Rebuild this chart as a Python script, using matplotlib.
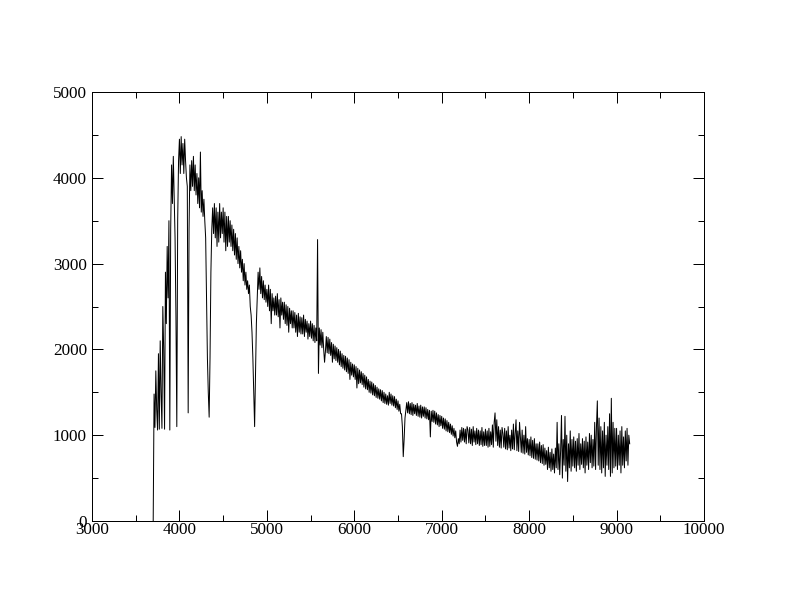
import numpy as np
import matplotlib
matplotlib.use("Agg")
import matplotlib.pyplot as plt
from matplotlib.ticker import MultipleLocator

# --- spectrum, 10 A sampling from 3700 to 9150 A ---
wave_start = 3700
wave_stop = 9150
wave_step = 10

flux = [
    # 3700
    0, 1480, 1090, 1750, 1300, 1060, 1950, 1070, 2100, 1500,
    # 3800
    1080, 2500, 2000, 1070, 2900, 2300, 3200, 2600, 3500, 1060,
    # 3900
    3400, 4150, 3700, 4250, 3800, 3300, 2400, 1100, 3500, 4200,
    # 4000
    4450, 4050, 4480, 4150, 4400, 4050, 4450, 4200, 4000, 3900,
    # 4100  (H-delta)
    1260, 3400, 4150, 3850, 4200, 3900, 4250, 3850, 4150, 3800,
    # 4200
    4050, 3700, 4000, 3650, 4300, 3600, 3850, 3550, 3750, 3500,
    # 4300  (H-gamma)
    3300, 2600, 1900, 1500, 1210, 1900, 2900, 3400, 3650, 3350,
    # 4400
    3700, 3300, 3650, 3200, 3600, 3250, 3700, 3300, 3600, 3350,
    # 4500
    3650, 3250, 3600, 3150, 3550, 3200, 3550, 3250, 3500, 3200,
    # 4600
    3450, 3150, 3400, 3100, 3350, 3050, 3300, 3000, 3200, 2950,
    # 4700
    3150, 2900, 3050, 2800, 3000, 2750, 2900, 2700, 2800, 2650,
    # 4800  (H-beta)
    2750, 2500, 2400, 2200, 1900, 1500, 1100, 1700, 2300, 2600,
    # 4900
    2900, 2700, 2950, 2650, 2850, 2600, 2800, 2580, 2750, 2550,
    # 5000
    2700, 2500, 2750, 2450, 2700, 2300, 2650, 2450, 2600, 2400,
    # 5100
    2620, 2400, 2650, 2380, 2580, 2250, 2600, 2400, 2550, 2350,
    # 5200
    2550, 2300, 2520, 2280, 2500, 2200, 2480, 2300, 2450, 2250,
    # 5300
    2450, 2250, 2430, 2200, 2400, 2150, 2420, 2200, 2380, 2180,
    # 5400
    2370, 2180, 2400, 2150, 2350, 2200, 2330, 2120, 2300, 2150,
    # 5500  (sky line near 5577)
    2330, 2130, 2300, 2100, 2280, 2080, 2250, 2100, 3280, 1720,
    # 5600
    2250, 2050, 2230, 2020, 2200, 2000, 1850, 1980, 2150, 1960,
    # 5700
    2140, 1950, 2120, 1930, 2080, 1850, 2060, 1890, 2040, 1870,
    # 5800
    2020, 1850, 2000, 1820, 1980, 1800, 1950, 1780, 1930, 1760,
    # 5900
    1920, 1740, 1900, 1720, 1880, 1650, 1850, 1700, 1830, 1680,
    # 6000
    1820, 1650, 1800, 1550, 1780, 1600, 1760, 1610, 1740, 1590,
    # 6100
    1720, 1560, 1700, 1540, 1680, 1530, 1650, 1500, 1630, 1490,
    # 6200
    1620, 1470, 1600, 1460, 1580, 1440, 1560, 1430, 1540, 1420,
    # 6300
    1530, 1400, 1520, 1380, 1500, 1370, 1480, 1360, 1460, 1350,
    # 6400
    1500, 1370, 1480, 1350, 1460, 1340, 1450, 1320, 1420, 1300,
    # 6500  (H-alpha)
    1400, 1280, 1360, 1250, 1250, 1100, 750, 950, 1200, 1290,
    # 6600
    1380, 1260, 1390, 1250, 1370, 1240, 1380, 1230, 1360, 1250,
    # 6700
    1350, 1230, 1370, 1220, 1340, 1210, 1350, 1200, 1330, 1220,
    # 6800
    1330, 1200, 1320, 1190, 1300, 1180, 1290, 980, 1280, 1160,
    # 6900
    1290, 1150, 1280, 1130, 1260, 1120, 1240, 1100, 1230, 1110,
    # 7000
    1220, 1080, 1200, 1070, 1190, 1050, 1170, 1040, 1150, 1030,
    # 7100
    1130, 1010, 1110, 990, 1080, 970, 1050, 920, 870, 960,
    # 7200
    900, 1060, 920, 1090, 940, 1080, 920, 1070, 900, 1100,
    # 7300
    1060, 910, 1090, 900, 1070, 880, 1100, 920, 1050, 890,
    # 7400
    1080, 900, 1060, 880, 1050, 890, 1090, 870, 1040, 880,
    # 7500
    1070, 880, 1050, 860, 1080, 870, 1040, 890, 1120, 860,
    # 7600
    1150, 1260, 930, 1180, 880, 1100, 860, 1060, 850, 1090,
    # 7700
    1020, 860, 1080, 840, 1050, 830, 1100, 850, 1000, 820,
    # 7800
    1060, 840, 1130, 830, 1020, 1180, 820, 1050, 810, 1150,
    # 7900
    980, 800, 1060, 790, 1000, 780, 1100, 800, 960, 770,
    # 8000
    950, 760, 980, 740, 940, 730, 960, 720, 900, 710,
    # 8100
    900, 700, 920, 680, 880, 670, 890, 650, 850, 660,
    # 8200
    820, 600, 860, 620, 800, 580, 840, 600, 780, 560,
    # 8300
    850, 620, 1150, 600, 900, 540, 820, 1230, 500, 950,
    # 8400
    650, 1220, 580, 1000, 460, 900, 620, 1050, 580, 950,
    # 8500
    640, 980, 620, 930, 580, 960, 650, 1020, 600, 900,
    # 8600
    660, 960, 620, 930, 560, 980, 650, 920, 600, 1020,
    # 8700
    680, 1000, 620, 950, 640, 1150, 600, 1100, 1400, 650,
    # 8800
    1200, 600, 1100, 560, 1050, 620, 1150, 520, 1000, 650,
    # 8900
    1100, 600, 1250, 520, 1430, 560, 1150, 620, 1080, 640,
    # 9000
    1080, 600, 1000, 650, 1050, 560, 1100, 650, 980, 620,
    # 9100
    1050, 700, 1080, 650, 1000, 900,
]

x_ticks = [3000, 4000, 5000, 6000, 7000, 8000, 9000, 10000]
y_ticks = [0, 1000, 2000, 3000, 4000, 5000]

wave = np.arange(wave_start, wave_stop + 1, wave_step)

plt.rcParams['font.family'] = ['Liberation Serif', 'DejaVu Serif']

fig = plt.figure(figsize=(11, 8.5), dpi=72)
ax = fig.add_axes([92 / 792, 91 / 612, 612 / 792, 429 / 612])

ax.plot(wave, flux, color='black', lw=1.0)

ax.set_xlim(3000, 10000)
ax.set_ylim(0, 5000)
ax.set_xticks(x_ticks)
ax.set_yticks(y_ticks)
ax.xaxis.set_minor_locator(MultipleLocator(500))
ax.yaxis.set_minor_locator(MultipleLocator(500))

ax.tick_params(which='both', direction='in', top=True, right=True,
               width=1, labelsize=17)
ax.tick_params(which='major', length=11)
ax.tick_params(which='minor', length=6)
ax.tick_params(axis='x', pad=1)
ax.tick_params(axis='y', pad=5)
for s in ax.spines.values():
    s.set_linewidth(1)

fig.savefig('out.png', dpi=72)
